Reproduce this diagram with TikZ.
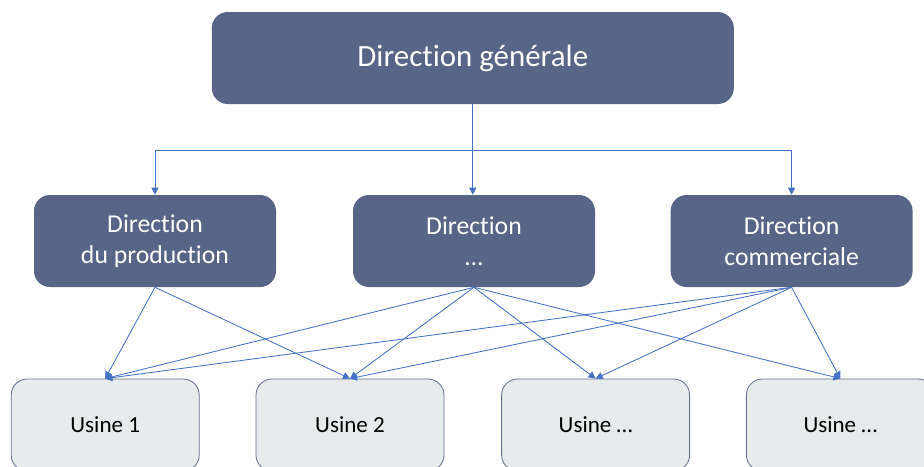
\documentclass[tikz,border=0pt]{standalone}
\usepackage{fontspec}
\setmainfont[Ligatures = NoCommon]{Carlito}
\usetikzlibrary{arrows.meta}
\definecolor{boxblue}{RGB}{89,101,134}
\definecolor{usinefill}{RGB}{231,235,236}
\definecolor{usineline}{RGB}{104,114,140}
\definecolor{linkblue}{RGB}{68,114,196}

\begin{document}
\begin{tikzpicture}[
        direction/.style = {rectangle, rounded corners = 0.4cm, fill = boxblue,
            text = white, align = center, minimum width = 6.05cm,
            minimum height = 2.3cm, font = \fontsize{18.3}{22}\selectfont},
        usine/.style = {rectangle, rounded corners = 0.4cm, fill = usinefill,
            draw = usineline, line width = 0.6pt, minimum width = 4.7cm,
            minimum height = 2.3cm, font = \fontsize{16.4}{20}\selectfont},
        link/.style = {linkblue, line width = 0.6pt,
            -{Triangle[length = 5pt, width = 5pt]}}
    ]
        \useasboundingbox (0, 0) rectangle (23.1, -11.65);

        \node[direction, minimum width = 13.05cm,
            font = \fontsize{22}{26}\selectfont] (gen) at (11.82, -1.45) {Direction générale};

        \node[direction] (prod) at (3.875, -6.025) {Direction\\du production};
        \node[direction] (dots) at (11.85, -6.025) {Direction\\…};
        \node[direction] (comm) at (19.79, -6.025) {Direction\\commerciale};

        \node[usine] (u1) at (2.63, -10.625) {Usine 1};
        \node[usine] (u2) at (8.75, -10.625) {Usine 2};
        \node[usine] (u3) at (14.89, -10.625) {Usine …};
        \node[usine] (u4) at (21.01, -10.625) {Usine …};

        % tree under the top box
        \coordinate (fork) at (gen.south |- 0, -3.75);
        \draw[link] (gen.south) -- (gen.south |- dots.north);
        \draw[link] (fork) -| (prod.north);
        \draw[link] (fork) -| (comm.north);

        % directions to usines
        \draw[link] (prod.south) -- (u1.north);
        \draw[link] (prod.south) -- (u2.north);
        \draw[link] (dots.south) -- (u1.north);
        \draw[link] (dots.south) -- (u2.north);
        \draw[link] (dots.south) -- (u3.north);
        \draw[link] (dots.south) -- (u4.north);
        \draw[link] (comm.south) -- (u1.north);
        \draw[link] (comm.south) -- (u2.north);
        \draw[link] (comm.south) -- (u3.north);
        \draw[link] (comm.south) -- (u4.north);

    \end{tikzpicture}
\end{document}
